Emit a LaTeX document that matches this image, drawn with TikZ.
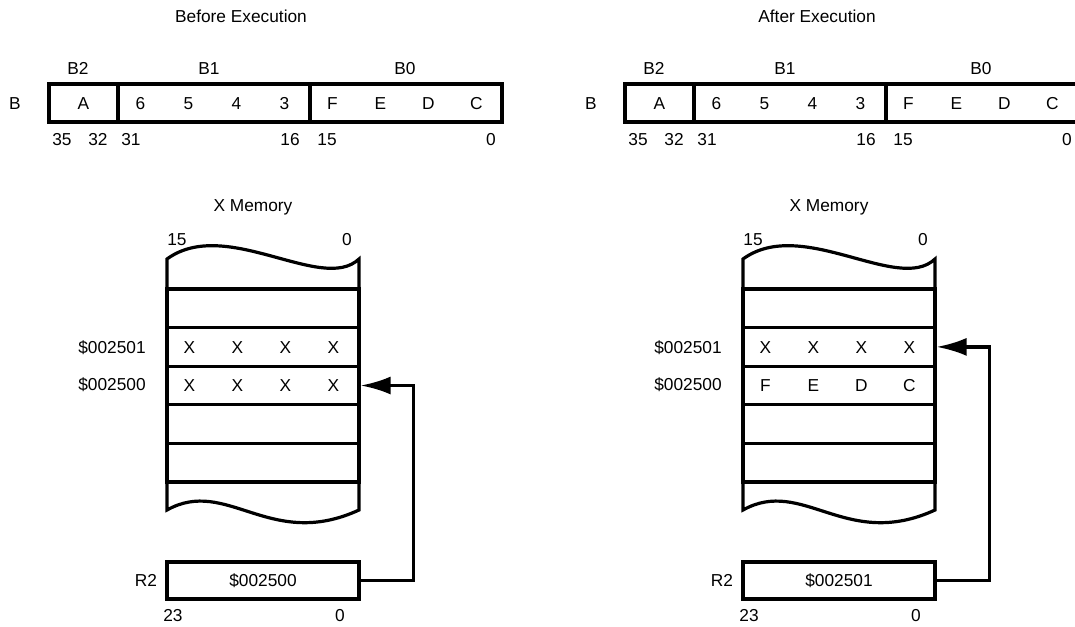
\documentclass[tikz,border=0pt]{standalone}
\usepackage{fontspec}
\setmainfont{Liberation Sans}
\usetikzlibrary{arrows.meta,positioning}

\begin{document}
\begin{tikzpicture}[
    x=1pt, y=-1pt,
    every node/.style={font=\fontsize{17.3}{20}\selectfont, inner sep=0pt,
                       text height=12.4pt, text depth=0pt},
    lbl/.style={align=center},
    field/.style={draw=black, line width=3.2pt, minimum height=38pt},
    memrow/.style={draw=black, line width=3.2pt, minimum width=192pt,
                   minimum height=38.6pt},
    regbox/.style={draw=black, line width=3.2pt, minimum width=192pt,
                   minimum height=37pt},
    edge/.style={black, line width=3.2pt},
    ptr/.style={-{Latex[length=30pt,width=18pt]}, black, line width=3.2pt},
]
\useasboundingbox (0,0) rectangle (1075,626);

% ════ BEFORE EXECUTION ════════════════════════════════════════
\node[lbl] (bTitle) at (241,16) {Before Execution};

% ── register B ───────────────────────────────────────────────
\node[lbl] (bBname) at (15,103) {B};
\node[lbl] (bL2) at (78,68.5)  {B2};
\node[lbl] (bL1) at (209,68.5) {B1};
\node[lbl] (bL0) at (405,68.5) {B0};
\node[field, minimum width=69pt]  (bB2) at (83.5,103) {A};
\node[field, minimum width=192pt] (bB1) at (214,103) {};
\node[field, minimum width=192pt] (bB0) at (406,103) {};
\foreach \t [count=\i] in {6,5,4,3}
    \node[lbl] (bB1c\i) at ([xshift=48*\i-24]bB1.west) {\t};
\foreach \t [count=\i] in {F,E,D,C}
    \node[lbl] (bB0c\i) at ([xshift=48*\i-24]bB0.west) {\t};

% bit numbers
\node[lbl] (bBit35) at (62,139)  {35};
\node[lbl] (bBit32) at (98,139)  {32};
\node[lbl] (bBit31) at (131,139) {31};
\node[lbl] (bBit16) at (290,139) {16};
\node[lbl] (bBit15) at (327,139) {15};
\node[lbl] (bBit0)  at (491,139) {0};

% ── X memory ─────────────────────────────────────────────────
\node[lbl] (bXmem) at (253,205) {X Memory};
\node[lbl] (bM15)  at (177,239) {15};
\node[lbl] (bM0)   at (347,239) {0};
\draw[edge] (167,289) -- (167,259)
    .. controls (226,216) and (322,294) .. (359,259) -- (359,289);
\draw[edge] (167,482) -- (167,510)
    .. controls (227,476.5) and (270,551) .. (359,510) -- (359,482);
\foreach \y/\n in {308.3/1, 346.9/2, 385.5/3, 424.1/4, 462.7/5}
    \node[memrow] (bRow\n) at (263,\y) {};
\foreach \t [count=\i] in {X,X,X,X}
    \node[lbl] (bR2c\i) at ([xshift=48*\i-24]bRow2.west) {\t};
\foreach \t [count=\i] in {X,X,X,X}
    \node[lbl] (bR3c\i) at ([xshift=48*\i-24]bRow3.west) {\t};
\node[lbl] (bAd01) at (112,347) {\$002501};
\node[lbl] (bAd00) at (112,384) {\$002500};

% ── address register R2 ──────────────────────────────────────
\node[lbl] (bR2name) at (146,580) {R2};
\node[regbox] (bR2) at (263,580.5) {\$002500};
\node[lbl] (bR2hi) at (173,615) {23};
\node[lbl] (bR2lo) at (340,615) {0};
\draw[ptr] (bR2.east) -- ++(53,0) |- (bRow3.east);

% ════ AFTER EXECUTION ═════════════════════════════════════════
\begin{scope}[xshift=576]
\node[lbl] (aTitle) at (241,16) {After Execution};

% ── register B ───────────────────────────────────────────────
\node[lbl] (aBname) at (15,103) {B};
\node[lbl] (aL2) at (78,68.5)  {B2};
\node[lbl] (aL1) at (209,68.5) {B1};
\node[lbl] (aL0) at (405,68.5) {B0};
\node[field, minimum width=69pt]  (aB2) at (83.5,103) {A};
\node[field, minimum width=192pt] (aB1) at (214,103) {};
\node[field, minimum width=192pt] (aB0) at (406,103) {};
\foreach \t [count=\i] in {6,5,4,3}
    \node[lbl] (aB1c\i) at ([xshift=48*\i-24]aB1.west) {\t};
\foreach \t [count=\i] in {F,E,D,C}
    \node[lbl] (aB0c\i) at ([xshift=48*\i-24]aB0.west) {\t};

% bit numbers
\node[lbl] (aBit35) at (62,139)  {35};
\node[lbl] (aBit32) at (98,139)  {32};
\node[lbl] (aBit31) at (131,139) {31};
\node[lbl] (aBit16) at (290,139) {16};
\node[lbl] (aBit15) at (327,139) {15};
\node[lbl] (aBit0)  at (491,139) {0};

% ── X memory ─────────────────────────────────────────────────
\node[lbl] (aXmem) at (253,205) {X Memory};
\node[lbl] (aM15)  at (177,239) {15};
\node[lbl] (aM0)   at (347,239) {0};
\draw[edge] (167,289) -- (167,259)
    .. controls (226,216) and (322,294) .. (359,259) -- (359,289);
\draw[edge] (167,482) -- (167,510)
    .. controls (227,476.5) and (270,551) .. (359,510) -- (359,482);
\foreach \y/\n in {308.3/1, 346.9/2, 385.5/3, 424.1/4, 462.7/5}
    \node[memrow] (aRow\n) at (263,\y) {};
\foreach \t [count=\i] in {X,X,X,X}
    \node[lbl] (aR2c\i) at ([xshift=48*\i-24]aRow2.west) {\t};
\foreach \t [count=\i] in {F,E,D,C}
    \node[lbl] (aR3c\i) at ([xshift=48*\i-24]aRow3.west) {\t};
\node[lbl] (aAd01) at (112,347) {\$002501};
\node[lbl] (aAd00) at (112,384) {\$002500};

% ── address register R2 ──────────────────────────────────────
\node[lbl] (aR2name) at (146,580) {R2};
\node[regbox] (aR2) at (263,580.5) {\$002501};
\node[lbl] (aR2hi) at (173,615) {23};
\node[lbl] (aR2lo) at (340,615) {0};
\draw[ptr] (aR2.east) -- ++(53,0) |- (aRow2.east);
\end{scope}

\end{tikzpicture}
\end{document}
